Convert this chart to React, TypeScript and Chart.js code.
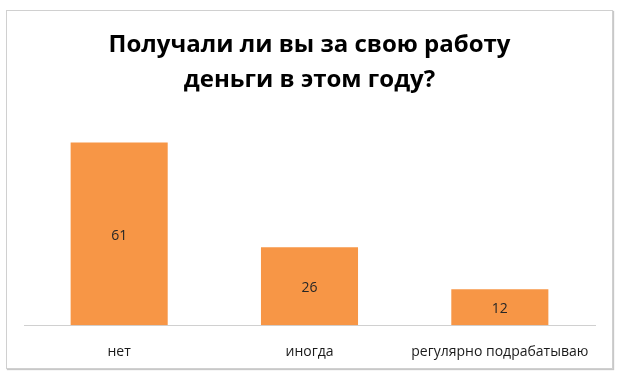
import React, { useEffect, useRef } from "react";
import { Chart, registerables } from "chart.js";

Chart.register(...registerables);

const categories = ["нет", "иногда", "регулярно подрабатываю"];
const values = [61, 26, 12];
const titleLines = ["Получали ли вы за свою работу", "деньги в этом году?"];

const FONT = "'Open Sans', 'Noto Sans', sans-serif";

const centerLabels = {
  id: "centerLabels",
  afterDatasetsDraw(chart: any) {
    const ctx = chart.ctx;
    const meta = chart.getDatasetMeta(0);
    ctx.save();
    ctx.font = `14px ${FONT}`;
    ctx.fillStyle = "#262626";
    ctx.textAlign = "center";
    ctx.textBaseline = "middle";
    meta.data.forEach((bar: any, i: number) => {
      const y = (bar.y + bar.base) / 2 + 2;
      ctx.fillText(String(values[i]), bar.x, y);
    });
    ctx.restore();
  },
};

export default function App() {
  const ref = useRef<HTMLCanvasElement | null>(null);
  useEffect(() => {
    if (!ref.current) return;
    const chart = new Chart(ref.current, {
      type: "bar",
      data: {
        labels: categories,
        datasets: [
          {
            data: values,
            backgroundColor: "#F79646",
            barPercentage: 1,
            categoryPercentage: 0.51,
          },
        ],
      },
      options: {
        animation: false,
        responsive: false,
        maintainAspectRatio: false,
        layout: { padding: { left: 24, right: 26, top: 0, bottom: 8 } },
        plugins: {
          legend: { display: false },
          tooltip: { enabled: false },
          title: {
            display: true,
            text: titleLines,
            color: "#000000",
            font: { family: FONT, size: 24, weight: "bold", lineHeight: 1.45 },
            padding: { top: 28, bottom: 18 },
          },
        },
        scales: {
          x: {
            grid: { display: false, drawTicks: false },
            border: { display: true, color: "#d0d0d0", width: 1 },
            ticks: {
              color: "#1a1a1a",
              font: { family: FONT, size: 14 },
              padding: 18,
              maxRotation: 0,
            },
          },
          y: {
            display: false,
            min: 0,
            max: 70,
          },
        },
      },
      plugins: [centerLabels],
    });
    return () => chart.destroy();
  }, []);
  return (
    <div style={{ position: "fixed", left: 0, top: 0, width: 621, height: 386, background: "#fff" }}>
      <div
        style={{
          position: "absolute",
          left: 6,
          top: 10,
          width: 605,
          height: 357,
          border: "1px solid #d0d0d0",
          boxShadow: "1px 1px 1px #c8c8c8",
        }}
      />
      <canvas ref={ref} width={621} height={386} style={{ position: "absolute", left: 0, top: 0 }} />
    </div>
  );
}
